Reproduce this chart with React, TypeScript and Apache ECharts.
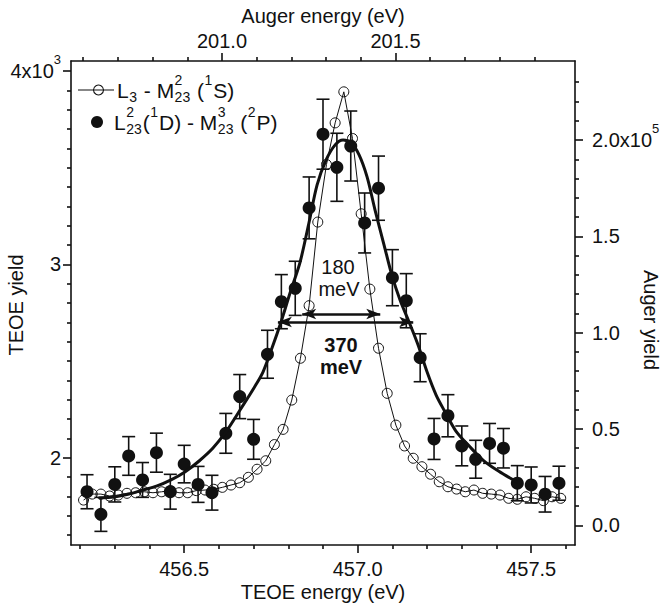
import React, { useEffect, useRef } from "react";
import * as echarts from "echarts";

// ---- data ----
// Open circles: L3 - M^2_23 (1S), Auger yield (right axis)
const openEnergy = [
  456.21, 456.235, 456.26, 456.285, 456.31, 456.335, 456.36, 456.385, 456.41, 456.435,
  456.46, 456.485, 456.51, 456.535, 456.56, 456.585, 456.61, 456.635, 456.66, 456.685,
  456.71, 456.735, 456.76, 456.785, 456.81, 456.835, 456.86, 456.885, 456.91, 456.935,
  456.96, 456.985, 457.01, 457.035, 457.06, 457.085, 457.11, 457.135, 457.16, 457.185,
  457.21, 457.235, 457.26, 457.285, 457.31, 457.335, 457.36, 457.385, 457.41, 457.435,
  457.46, 457.485, 457.51, 457.535, 457.56, 457.585,
];
const openYield = [
  13100, 16200, 16200, 15200, 15700, 16600, 16900, 17400, 16900, 17400,
  18000, 16900, 16900, 18000, 18300, 18700, 19700, 20900, 22100, 24900,
  29100, 33500, 41900, 49800, 65000, 86700, 114000, 157400, 187300, 208900,
  225000, 200800, 161700, 122600, 91900, 68500, 52000, 41200, 34800, 30400,
  26500, 22600, 20000, 18800, 17400, 18300, 16600, 16200, 15700, 14000,
  13500, 14800, 14000, 12800, 14800, 14000,
];

// Filled circles: L^2_23(1D) - M^3_23 (2P), TEOE yield (left axis)
const filledEnergy = [
  456.22, 456.26, 456.3, 456.34, 456.38, 456.42, 456.46, 456.5, 456.54, 456.58,
  456.62, 456.66, 456.7, 456.74, 456.78, 456.82, 456.86, 456.9, 456.94, 456.98,
  457.02, 457.06, 457.1, 457.14, 457.18, 457.22, 457.26, 457.3, 457.34, 457.38,
  457.42, 457.46, 457.5, 457.54, 457.58,
];
const filledYield = [
  1824, 1707, 1862, 2009, 1885, 2026, 1824, 1967, 1862, 1819,
  2126, 2316, 2095, 2535, 2807, 2876, 3292, 3673, 3502, 3612,
  3214, 3394, 2931, 2812, 2517, 2097, 2217, 2061, 1992, 2074,
  2049, 1868, 1859, 1811, 1868,
];
const filledError = [
  88, 88, 91, 100, 90, 101, 90, 97, 93, 90,
  103, 114, 103, 124, 140, 140, 160, 181, 176, 181,
  155, 166, 145, 140, 124, 106, 109, 103, 98, 103,
  102, 91, 93, 92, 88,
];

// Thick fitted curve through the filled circles
const fitEnergy = [
  456.254, 456.298, 456.341, 456.381, 456.422, 456.462, 456.502, 456.543, 456.583, 456.62,
  456.661, 456.701, 456.727, 456.753, 456.779, 456.805, 456.834, 456.86, 456.883, 456.909,
  456.935, 456.958, 456.981, 457.004, 457.027, 457.05, 457.076, 457.099, 457.122, 457.148,
  457.174, 457.2, 457.226, 457.252, 457.283, 457.324, 457.361, 457.401, 457.439, 457.459,
];
const fitYield = [
  1792, 1797, 1812, 1833, 1854, 1885, 1926, 1983, 2050, 2133,
  2247, 2361, 2443, 2567, 2702, 2852, 3012, 3219, 3411, 3540,
  3618, 3643, 3628, 3566, 3452, 3281, 3100, 2940, 2816, 2702,
  2583, 2443, 2324, 2236, 2138, 2055, 1988, 1936, 1895, 1874,
];

// Width markers
const widthWide = { from: 456.77, to: 457.16, level: 2702 }; // 370 meV
const widthNarrow = { from: 456.84, to: 457.065, level: 2743 }; // 180 meV

// ---- ticks ----
const bottomMajorTicks = [456.5, 457.0, 457.5];
const bottomMinorTicks = [456.2, 456.3, 456.4, 456.6, 456.7, 456.8, 456.9, 457.1, 457.2, 457.3, 457.4, 457.6];
const topMajorTicks = [201.0, 201.5];
const topMinorTicks = [200.6, 200.7, 200.8, 200.9, 201.1, 201.2, 201.3, 201.4, 201.6, 201.7, 201.8, 201.9];
const leftMajorTicks = [2000, 3000, 4000];
const leftMinorTicks = [
  1600, 1700, 1800, 1900, 2100, 2200, 2300, 2400, 2500, 2600, 2700, 2800, 2900,
  3100, 3200, 3300, 3400, 3500, 3600, 3700, 3800, 3900,
];
const rightMajorTicks = [0, 50000, 100000, 150000, 200000];
const rightMinorTicks = [
  10000, 20000, 30000, 40000, 60000, 70000, 80000, 90000, 110000, 120000, 130000, 140000,
  160000, 170000, 180000, 190000, 210000, 220000, 230000,
];

const INK = "#111111";
const FONT = '"Liberation Sans", Arial, Helvetica, sans-serif';

type Seg = { n?: string; sup?: string; sub?: string };
const legendRow1: Seg[] = [{ n: "L" }, { sub: "3" }, { n: " - M" }, { sup: "2", sub: "23" }, { n: " (" }, { sup: "1" }, { n: "S)" }];
const legendRow2: Seg[] = [
  { n: "L" }, { sup: "2", sub: "23" }, { n: "(" }, { sup: "1" }, { n: "D) - M" },
  { sup: "3", sub: "23" }, { n: " (" }, { sup: "2" }, { n: "P)" },
];

export default function App() {
  const ref = useRef<HTMLDivElement>(null);
  useEffect(() => {
    if (!ref.current) return;
    const chart = echarts.init(ref.current, null, { renderer: "svg" });

    const canvas = document.createElement("canvas");
    const ctx = canvas.getContext("2d")!;
    const measure = (t: string, size: number) => {
      ctx.font = `${size}px "Liberation Sans"`;
      return ctx.measureText(t).width;
    };
    const txt = (t: string, x: number, y: number, size: number, extra: any = {}) => ({
      type: "text",
      x,
      y,
      silent: true,
      style: {
        text: t,
        fontSize: size,
        fontFamily: FONT,
        fill: INK,
        align: "left",
        verticalAlign: "middle",
        ...extra,
      },
    });
    const MAIN = 21;
    const SMALL = 14;
    const row = (segs: Seg[], x0: number, yc: number) => {
      const els: any[] = [];
      let x = x0;
      for (const s of segs) {
        if (s.n) {
          els.push(txt(s.n, x, yc, MAIN));
          x += measure(s.n, MAIN);
        } else {
          let w = 0;
          if (s.sup) {
            els.push(txt(s.sup, x + 0.5, yc - 10.5, SMALL));
            w = Math.max(w, measure(s.sup, SMALL));
          }
          if (s.sub) {
            els.push(txt(s.sub, x + 0.5, yc + 7, SMALL));
            w = Math.max(w, measure(s.sub, SMALL));
          }
          x += w + 1.5;
        }
      }
      return els;
    };

    const lineStyle = { color: INK, width: 1.6 };
    const labelBase = { fontSize: 20, fontFamily: FONT, color: INK };
    const rich = {
      b: { fontSize: 20, lineHeight: 36, fontFamily: FONT, color: INK },
      sup: { fontSize: 13, lineHeight: 13, verticalAlign: "top", fontFamily: FONT, color: INK },
    };

    const majorAxis = (pos: string, min: number, max: number, ticks: number[], label: any) => ({
      type: "value",
      position: pos,
      min,
      max,
      axisLine: { show: true, onZero: false, lineStyle },
      axisTick: { show: true, inside: false, length: 8, customValues: ticks, lineStyle },
      axisLabel: { show: true, customValues: ticks, ...label },
      splitLine: { show: false },
      minorTick: { show: false },
    });
    const minorAxis = (pos: string, min: number, max: number, ticks: number[]) => ({
      type: "value",
      position: pos,
      min,
      max,
      axisLine: { show: false, onZero: false },
      axisTick: { show: true, inside: false, length: 4, customValues: ticks, lineStyle },
      axisLabel: { show: false },
      splitLine: { show: false },
    });

    const BX = [456.1738, 457.6262];
    const TX = [200.5648, 202.0173];
    const LY = [1548.5, 4051.7];
    const RY = [-10230, 241010];

    const option: any = {
      animation: false,
      grid: { left: 71, top: 61, right: 88, bottom: 65, containLabel: false },
      xAxis: [
        majorAxis("bottom", BX[0], BX[1], bottomMajorTicks, {
          ...labelBase,
          margin: 14,
          formatter: (v: number) => v.toFixed(1),
        }),
        minorAxis("bottom", BX[0], BX[1], bottomMinorTicks),
        majorAxis("top", TX[0], TX[1], topMajorTicks, {
          ...labelBase,
          margin: 10,
          formatter: (v: number) => v.toFixed(1),
        }),
        minorAxis("top", TX[0], TX[1], topMinorTicks),
      ],
      yAxis: [
        majorAxis("left", LY[0], LY[1], leftMajorTicks, {
          ...labelBase,
          margin: 10,
          rich,
          formatter: (v: number) => (v === 4000 ? "{b|4x10}{sup|3}" : `{b|${Math.round(v / 1000)}}`),
        }),
        minorAxis("left", LY[0], LY[1], leftMinorTicks),
        majorAxis("right", RY[0], RY[1], rightMajorTicks, {
          ...labelBase,
          margin: 17,
          rich,
          formatter: (v: number) => (v === 200000 ? "{b|2.0x10}{sup|5}" : `{b|${(v / 1e5).toFixed(1)}}`),
        }),
        minorAxis("right", RY[0], RY[1], rightMinorTicks),
      ],
      series: [
        {
          name: "L3 - M23 (1S)",
          type: "line",
          xAxisIndex: 0,
          yAxisIndex: 2,
          data: openEnergy.map((x, i) => [x, openYield[i]]),
          symbol: "circle",
          symbolSize: 10,
          showSymbol: true,
          itemStyle: { color: "rgba(0,0,0,0)", borderColor: INK, borderWidth: 1, opacity: 1 },
          lineStyle: { color: INK, width: 1 },
          emphasis: { disabled: true },
          z: 3,
        },
        {
          type: "custom",
          xAxisIndex: 0,
          yAxisIndex: 0,
          data: filledEnergy.map((x, i) => [x, filledYield[i] - filledError[i], filledYield[i] + filledError[i]]),
          encode: { x: 0, y: [1, 2] },
          renderItem: (params: any, api: any) => {
            const x = api.value(0);
            const lo = api.coord([x, api.value(1)]);
            const hi = api.coord([x, api.value(2)]);
            const w = 6.5;
            const st = { stroke: INK, lineWidth: 1.6 };
            return {
              type: "group",
              children: [
                { type: "line", shape: { x1: lo[0], y1: lo[1], x2: hi[0], y2: hi[1] }, style: st },
                { type: "line", shape: { x1: lo[0] - w, y1: lo[1], x2: lo[0] + w, y2: lo[1] }, style: st },
                { type: "line", shape: { x1: hi[0] - w, y1: hi[1], x2: hi[0] + w, y2: hi[1] }, style: st },
              ],
            };
          },
          z: 4,
        },
        {
          name: "L23(1D) - M23 (2P)",
          type: "scatter",
          xAxisIndex: 0,
          yAxisIndex: 0,
          data: filledEnergy.map((x, i) => [x, filledYield[i]]),
          symbol: "circle",
          symbolSize: 13,
          itemStyle: { color: INK, opacity: 1 },
          emphasis: { disabled: true },
          z: 5,
        },
        {
          type: "line",
          xAxisIndex: 0,
          yAxisIndex: 0,
          data: fitEnergy.map((x, i) => [x, fitYield[i]]),
          symbol: "none",
          showSymbol: false,
          smooth: 0.3,
          lineStyle: { color: INK, width: 3 },
          emphasis: { disabled: true },
          z: 6,
          markLine: {
            silent: true,
            animation: false,
            label: { show: false },
            lineStyle: { color: INK, width: 2.6, type: "solid" },
            emphasis: { disabled: true },
            data: [
              [
                { coord: [widthWide.from, widthWide.level], symbol: "arrow", symbolSize: [8, 14] },
                { coord: [widthWide.to, widthWide.level], symbol: "arrow", symbolSize: [8, 14] },
              ],
              [
                { coord: [widthNarrow.from, widthNarrow.level], symbol: "arrow", symbolSize: [8, 14] },
                { coord: [widthNarrow.to, widthNarrow.level], symbol: "arrow", symbolSize: [8, 14] },
              ],
            ],
          },
        },
      ],
      graphic: {
        elements: [
          // axis titles
          txt("TEOE energy (eV)", 323, 592, 20, { align: "center" }),
          txt("Auger energy (eV)", 323, 16, 20, { align: "center" }),
          { ...txt("TEOE yield", 16, 305, 20, { align: "center" }), rotation: Math.PI / 2 },
          { ...txt("Auger yield", 651, 320, 20, { align: "center" }), rotation: -Math.PI / 2 },
          // width annotations
          txt("180", 338, 267, 20, { align: "center" }),
          txt("meV", 339, 289, 20, { align: "center" }),
          txt("370", 341, 345, 20, { align: "center", fontWeight: "bold" }),
          txt("meV", 341, 367, 20, { align: "center", fontWeight: "bold" }),
          // legend
          { type: "line", silent: true, shape: { x1: 78, y1: 90, x2: 114, y2: 90 }, style: { stroke: INK, lineWidth: 1.2 } },
          { type: "circle", silent: true, shape: { cx: 98.5, cy: 90, r: 5 }, style: { fill: "rgba(0,0,0,0)", stroke: INK, lineWidth: 1.1 } },
          { type: "circle", silent: true, shape: { cx: 97, cy: 122, r: 6 }, style: { fill: INK } },
          ...row(legendRow1, 117, 90),
          ...row(legendRow2, 114, 122),
        ],
      },
    };

    chart.setOption(option);
    return () => chart.dispose();
  }, []);

  return <div ref={ref} style={{ position: "fixed", left: 0, top: 0, width: 663, height: 610, background: "#fff" }} />;
}
